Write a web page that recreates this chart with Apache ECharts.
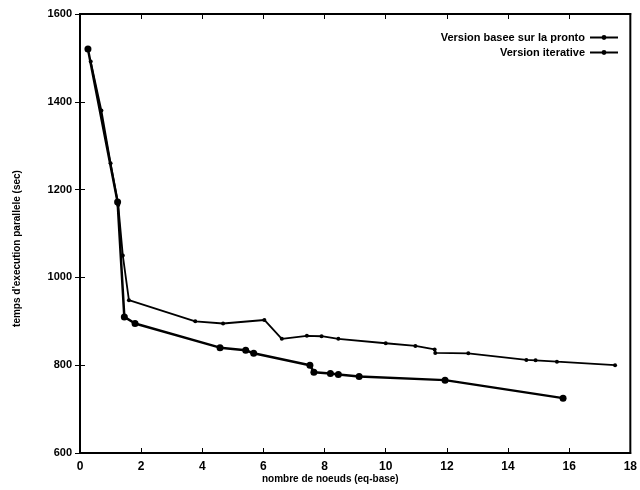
<!DOCTYPE html>
<html><head><meta charset="utf-8">
<script src="https://cdn.jsdelivr.net/npm/echarts@6/dist/echarts.min.js"></script>
<style>html,body{margin:0;padding:0;background:#fff}#c{width:640px;height:490px}</style>
</head><body><div id="c"></div>
<script>
var xTicks = [0, 2, 4, 6, 8, 10, 12, 14, 16, 18];
var yTicks = [600, 800, 1000, 1200, 1400, 1600];
var seriesNames = ['Version basee sur la pronto', 'Version iterative'];
var prontoX = [0.26, 1.23, 1.45, 1.8, 4.58, 5.42, 5.68, 7.52, 7.65, 8.19, 8.45, 9.13, 11.94, 15.8];
var prontoY = [1520, 1172, 910, 895, 840, 834, 827, 800, 784, 781, 779, 774, 766, 725];
var iterX = [0.35, 0.7, 1.0, 1.25, 1.4, 1.6, 3.77, 4.68, 6.03, 6.6, 7.42, 7.9, 8.45, 10.0, 10.97, 11.6, 11.62, 12.7, 14.6, 14.9, 15.6, 17.5];
var iterY = [1492, 1380, 1260, 1165, 1050, 948, 900, 895, 903, 860, 867, 866, 860, 850, 844, 836, 828, 827, 812, 811, 808, 800];

function pairs(xs, ys){ return xs.map(function(x,i){ return [x, ys[i]]; }); }

var font = 'Liberation Sans, Arial, sans-serif';
var chart = echarts.init(document.getElementById('c'));
chart.setOption({
  backgroundColor: '#ffffff',
  animation: false,
  grid: {left: 80, right: 5, top: 14, bottom: 37, show: true, borderColor: '#000', borderWidth: 2, backgroundColor: 'transparent'},
  legend: {
    orient: 'vertical', right: 16, top: 27, align: 'right', itemGap: 4,
    itemWidth: 28, itemHeight: 6,
    textStyle: {fontFamily: font, fontSize: 11, fontWeight: 'bold', color: '#000'},
    data: seriesNames
  },
  xAxis: [{
    type: 'value', min: 0, max: 18, interval: 2,
    axisLine: {show: true, lineStyle: {color: '#000', width: 2}},
    axisTick: {show: true, inside: true, length: 5, lineStyle: {color: '#000'}},
    splitLine: {show: false},
    axisLabel: {color: '#000', fontFamily: font, fontSize: 12, fontWeight: 'bold', margin: 8,
      formatter: function(v){ return xTicks.indexOf(v) >= 0 ? String(v) : ''; }}
  }, {
    type: 'value', position: 'top', min: 0, max: 18, interval: 2,
    axisLine: {show: true, lineStyle: {color: '#000', width: 2}},
    axisTick: {show: true, inside: true, length: 5, lineStyle: {color: '#000'}},
    axisLabel: {show: false}, splitLine: {show: false}
  }],
  yAxis: [{
    type: 'value', min: 600, max: 1600, interval: 200,
    name: "temps d'execution parallele (sec)", nameLocation: 'middle', nameGap: 58,
    nameTextStyle: {color: '#000', fontFamily: font, fontSize: 10, fontWeight: 'bold', padding: [0, 0, 0, -30]},
    axisLine: {show: true, lineStyle: {color: '#000', width: 2}},
    axisTick: {show: true, inside: true, length: 5, lineStyle: {color: '#000'}},
    splitLine: {show: false},
    axisLabel: {color: '#000', fontFamily: font, fontSize: 11, fontWeight: 'bold', margin: 8,
      formatter: function(v){ return yTicks.indexOf(v) >= 0 ? String(v) : ''; }}
  }, {
    type: 'value', position: 'right', min: 600, max: 1600, interval: 200,
    axisLine: {show: true, lineStyle: {color: '#000', width: 2}},
    axisTick: {show: true, inside: true, length: 5, lineStyle: {color: '#000'}},
    axisLabel: {show: false}, splitLine: {show: false}
  }],
  graphic: [{
    type: 'text', left: 262, top: 474,
    style: {text: 'nombre de noeuds (eq-base)', font: 'bold 10px ' + font, fill: '#000'}
  }],
  series: [{
    name: seriesNames[0], type: 'line', data: pairs(prontoX, prontoY),
    symbol: 'circle', symbolSize: 7,
    lineStyle: {color: '#000', width: 2.5}, itemStyle: {color: '#000'}
  }, {
    name: seriesNames[1], type: 'line', data: pairs(iterX, iterY),
    symbol: 'circle', symbolSize: 4,
    lineStyle: {color: '#000', width: 1.8}, itemStyle: {color: '#000'}
  }]
});
</script></body></html>
